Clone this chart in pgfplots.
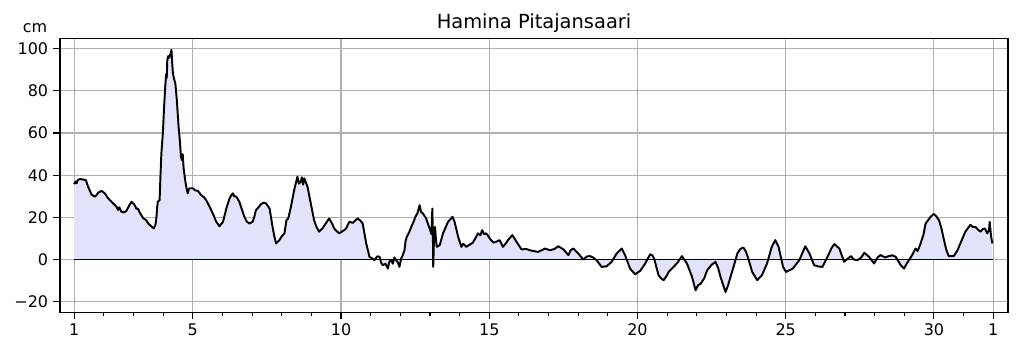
\documentclass[border=0pt]{standalone}
\usepackage{pgfplots}
\usepackage{pgfplotstable}
\pgfplotsset{compat=1.18}
\usepackage{fontspec}
\setmainfont{DejaVu Sans}
\definecolor{fillc}{RGB}{226,226,250}
\definecolor{gridc}{RGB}{176,176,176}
\pgfplotstableread{
x y
1.00 35.7
1.04 37.0
1.08 36.2
1.12 37.7
1.20 38.2
1.30 37.9
1.39 37.7
1.47 34.5
1.58 30.9
1.69 29.8
1.75 30.5
1.81 31.7
1.92 32.6
2.03 31.4
2.12 29.5
2.20 28.2
2.30 26.8
2.37 25.8
2.43 25.0
2.48 23.5
2.52 24.8
2.59 22.7
2.68 22.3
2.76 23.1
2.85 25.5
2.93 27.4
3.00 26.5
3.04 25.8
3.10 24.0
3.15 24.2
3.20 22.5
3.26 21.1
3.33 19.5
3.43 18.7
3.50 17.0
3.60 15.8
3.68 14.7
3.74 16.5
3.77 19.5
3.80 25.0
3.82 27.4
3.88 28.2
3.91 40.0
3.94 50.4
3.99 59.9
4.03 72.0
4.07 82.1
4.10 88.0
4.12 86.0
4.14 94.8
4.17 96.5
4.19 95.6
4.24 97.1
4.28 99.5
4.31 92.0
4.33 88.4
4.37 85.5
4.41 83.7
4.46 75.8
4.52 63.1
4.57 55.2
4.60 49.0
4.63 47.2
4.66 50.0
4.69 43.3
4.75 36.9
4.80 33.0
4.83 31.4
4.87 33.5
4.91 33.8
5.00 33.8
5.08 32.8
5.17 32.6
5.28 30.6
5.38 29.5
5.45 28.2
5.55 25.5
5.62 23.5
5.70 21.0
5.79 17.9
5.90 15.8
6.02 17.9
6.13 24.2
6.24 29.0
6.30 30.5
6.35 31.4
6.40 30.0
6.47 29.8
6.57 27.4
6.65 24.0
6.74 20.3
6.82 18.0
6.91 17.1
7.02 17.9
7.08 20.5
7.13 23.5
7.22 24.8
7.30 26.3
7.40 27.0
7.47 26.6
7.59 24.2
7.69 15.5
7.75 11.0
7.81 7.6
7.92 9.2
8.00 11.0
8.09 12.4
8.16 18.7
8.22 19.5
8.31 25.0
8.42 33.0
8.53 39.3
8.58 36.0
8.64 36.9
8.68 39.0
8.72 35.5
8.76 38.5
8.87 34.5
8.98 26.6
9.09 18.7
9.17 15.5
9.26 13.2
9.37 14.7
9.48 17.0
9.60 19.5
9.70 17.0
9.77 14.7
9.85 13.5
9.94 12.4
10.10 13.9
10.17 14.7
10.28 17.9
10.40 17.4
10.48 18.5
10.56 19.5
10.65 18.5
10.73 17.1
10.85 7.6
10.96 1.3
11.05 0.5
11.13 -0.3
11.22 1.5
11.30 1.3
11.35 -1.5
11.41 -2.7
11.50 -2.0
11.58 -4.3
11.63 -1.0
11.69 -0.3
11.75 -2.0
11.80 1.0
11.86 -0.3
11.92 -1.5
11.97 -3.5
12.03 0.5
12.08 2.0
12.14 4.4
12.18 9.0
12.22 10.8
12.30 13.0
12.37 15.5
12.45 18.0
12.51 20.3
12.58 22.0
12.65 25.8
12.70 22.5
12.76 21.9
12.87 19.5
12.93 17.0
12.99 14.7
13.05 12.0
13.08 24.2
13.10 10.0
13.11 -3.5
13.14 12.0
13.17 15.5
13.20 10.0
13.23 6.0
13.33 6.8
13.44 12.4
13.52 15.0
13.61 17.9
13.68 19.0
13.76 20.3
13.83 17.9
13.95 10.8
14.06 6.0
14.12 7.5
14.23 6.0
14.33 7.0
14.44 7.9
14.55 10.5
14.62 12.4
14.70 11.5
14.76 13.9
14.83 12.0
14.90 12.4
15.06 9.2
15.15 8.0
15.23 8.4
15.35 9.2
15.46 6.0
15.55 7.5
15.63 9.2
15.78 11.6
15.92 8.4
16.09 4.8
16.25 5.0
16.37 4.4
16.50 4.0
16.65 3.6
16.78 4.5
16.88 5.2
17.05 4.4
17.20 5.0
17.33 6.3
17.50 4.8
17.67 2.1
17.75 4.5
17.84 5.2
18.00 2.9
18.17 0.0
18.30 1.5
18.40 1.6
18.50 1.0
18.62 -0.3
18.79 -3.5
18.96 -3.2
19.13 -1.1
19.30 2.9
19.47 5.2
19.58 2.1
19.75 -4.3
19.92 -7.0
20.09 -5.4
20.26 -1.9
20.43 2.5
20.50 2.0
20.56 0.5
20.71 -7.4
20.80 -9.0
20.88 -9.8
21.00 -7.4
21.05 -5.9
21.22 -3.5
21.35 -1.5
21.50 1.6
21.67 -1.9
21.84 -8.2
21.96 -14.6
22.05 -12.0
22.12 -11.7
22.25 -9.0
22.35 -5.1
22.50 -2.5
22.63 -1.1
22.72 -4.0
22.80 -8.2
22.90 -12.5
22.97 -15.4
23.05 -12.5
23.14 -8.2
23.25 -3.0
23.37 2.9
23.47 5.0
23.57 5.7
23.65 4.0
23.72 1.3
23.87 -5.9
24.04 -9.8
24.20 -7.4
24.37 -1.9
24.53 6.0
24.65 9.2
24.76 6.0
24.91 -3.5
25.01 -5.9
25.24 -4.3
25.46 -0.3
25.56 3.0
25.66 6.3
25.80 2.9
25.96 -2.7
26.10 -3.3
26.24 -3.5
26.41 1.3
26.55 5.5
26.64 7.3
26.81 5.2
26.97 -1.1
27.10 0.5
27.20 1.6
27.30 0.0
27.42 -0.3
27.55 1.0
27.65 3.2
27.81 1.3
27.98 -1.9
28.10 1.0
28.20 2.1
28.35 1.0
28.48 1.6
28.60 2.0
28.71 1.3
28.88 -2.7
28.99 -4.3
29.08 -2.0
29.16 -0.3
29.28 2.5
29.38 5.2
29.45 4.0
29.55 7.6
29.65 12.0
29.72 17.1
29.89 20.3
30.00 21.6
30.08 20.5
30.17 18.7
30.25 15.0
30.34 9.2
30.42 4.5
30.50 1.6
30.67 1.6
30.80 4.5
30.89 7.6
31.06 13.2
31.23 16.5
31.30 15.5
31.40 15.5
31.50 14.0
31.57 13.2
31.65 14.5
31.72 14.7
31.80 12.4
31.86 14.0
31.88 17.9
31.93 10.8
31.97 7.6
}\sealevel
\begin{document}
\begin{tikzpicture}
\path[use as bounding box] (0,0) rectangle (733.7pt,253.4pt);
\begin{axis}[name=ax, at={(43.2pt,28.6pt)}, anchor=south west,
  scale only axis, width=682.6pt, height=197.3pt,
  xmin=0.52, xmax=32.5, ymin=-25, ymax=105,
  xtick={1,5,10,15,20,25,30,32}, xticklabels={1,5,10,15,20,25,30,1},
  minor xtick={2,3,4,6,7,8,9,11,12,13,14,16,17,18,19,21,22,23,24,26,27,28,29,31},
  ytick={-20,0,20,40,60,80,100}, yticklabels={−20,0,20,40,60,80,100},
  grid=major, major grid style={gridc, line width=0.8pt},
  tick align=outside, xtick pos=left, ytick pos=left,
  major tick length=5pt, minor tick length=3pt,
  every tick/.style={black, line width=0.8pt},
  axis line style={line width=0.8pt},
  ticklabel style={font=\fontsize{11.5}{13}\selectfont},
  title={Hamina Pitajansaari},
  every axis title/.style={font=\fontsize{14}{16}\selectfont, anchor=base, at={(0.5,1)}, yshift=7.2pt},
]
\addplot[fill=fillc, draw=none] table {\sealevel} \closedcycle;
\addplot[black, line width=0.8pt] coordinates {(1,0) (32,0)};
\addplot[black, line width=1.4pt, line join=round] table {\sealevel};
\end{axis}
\node[anchor=base, font=\fontsize{11.5}{13}\selectfont] at ([xshift=-18pt, yshift=4.3pt]ax.north west) {cm};
\end{tikzpicture}
\end{document}
